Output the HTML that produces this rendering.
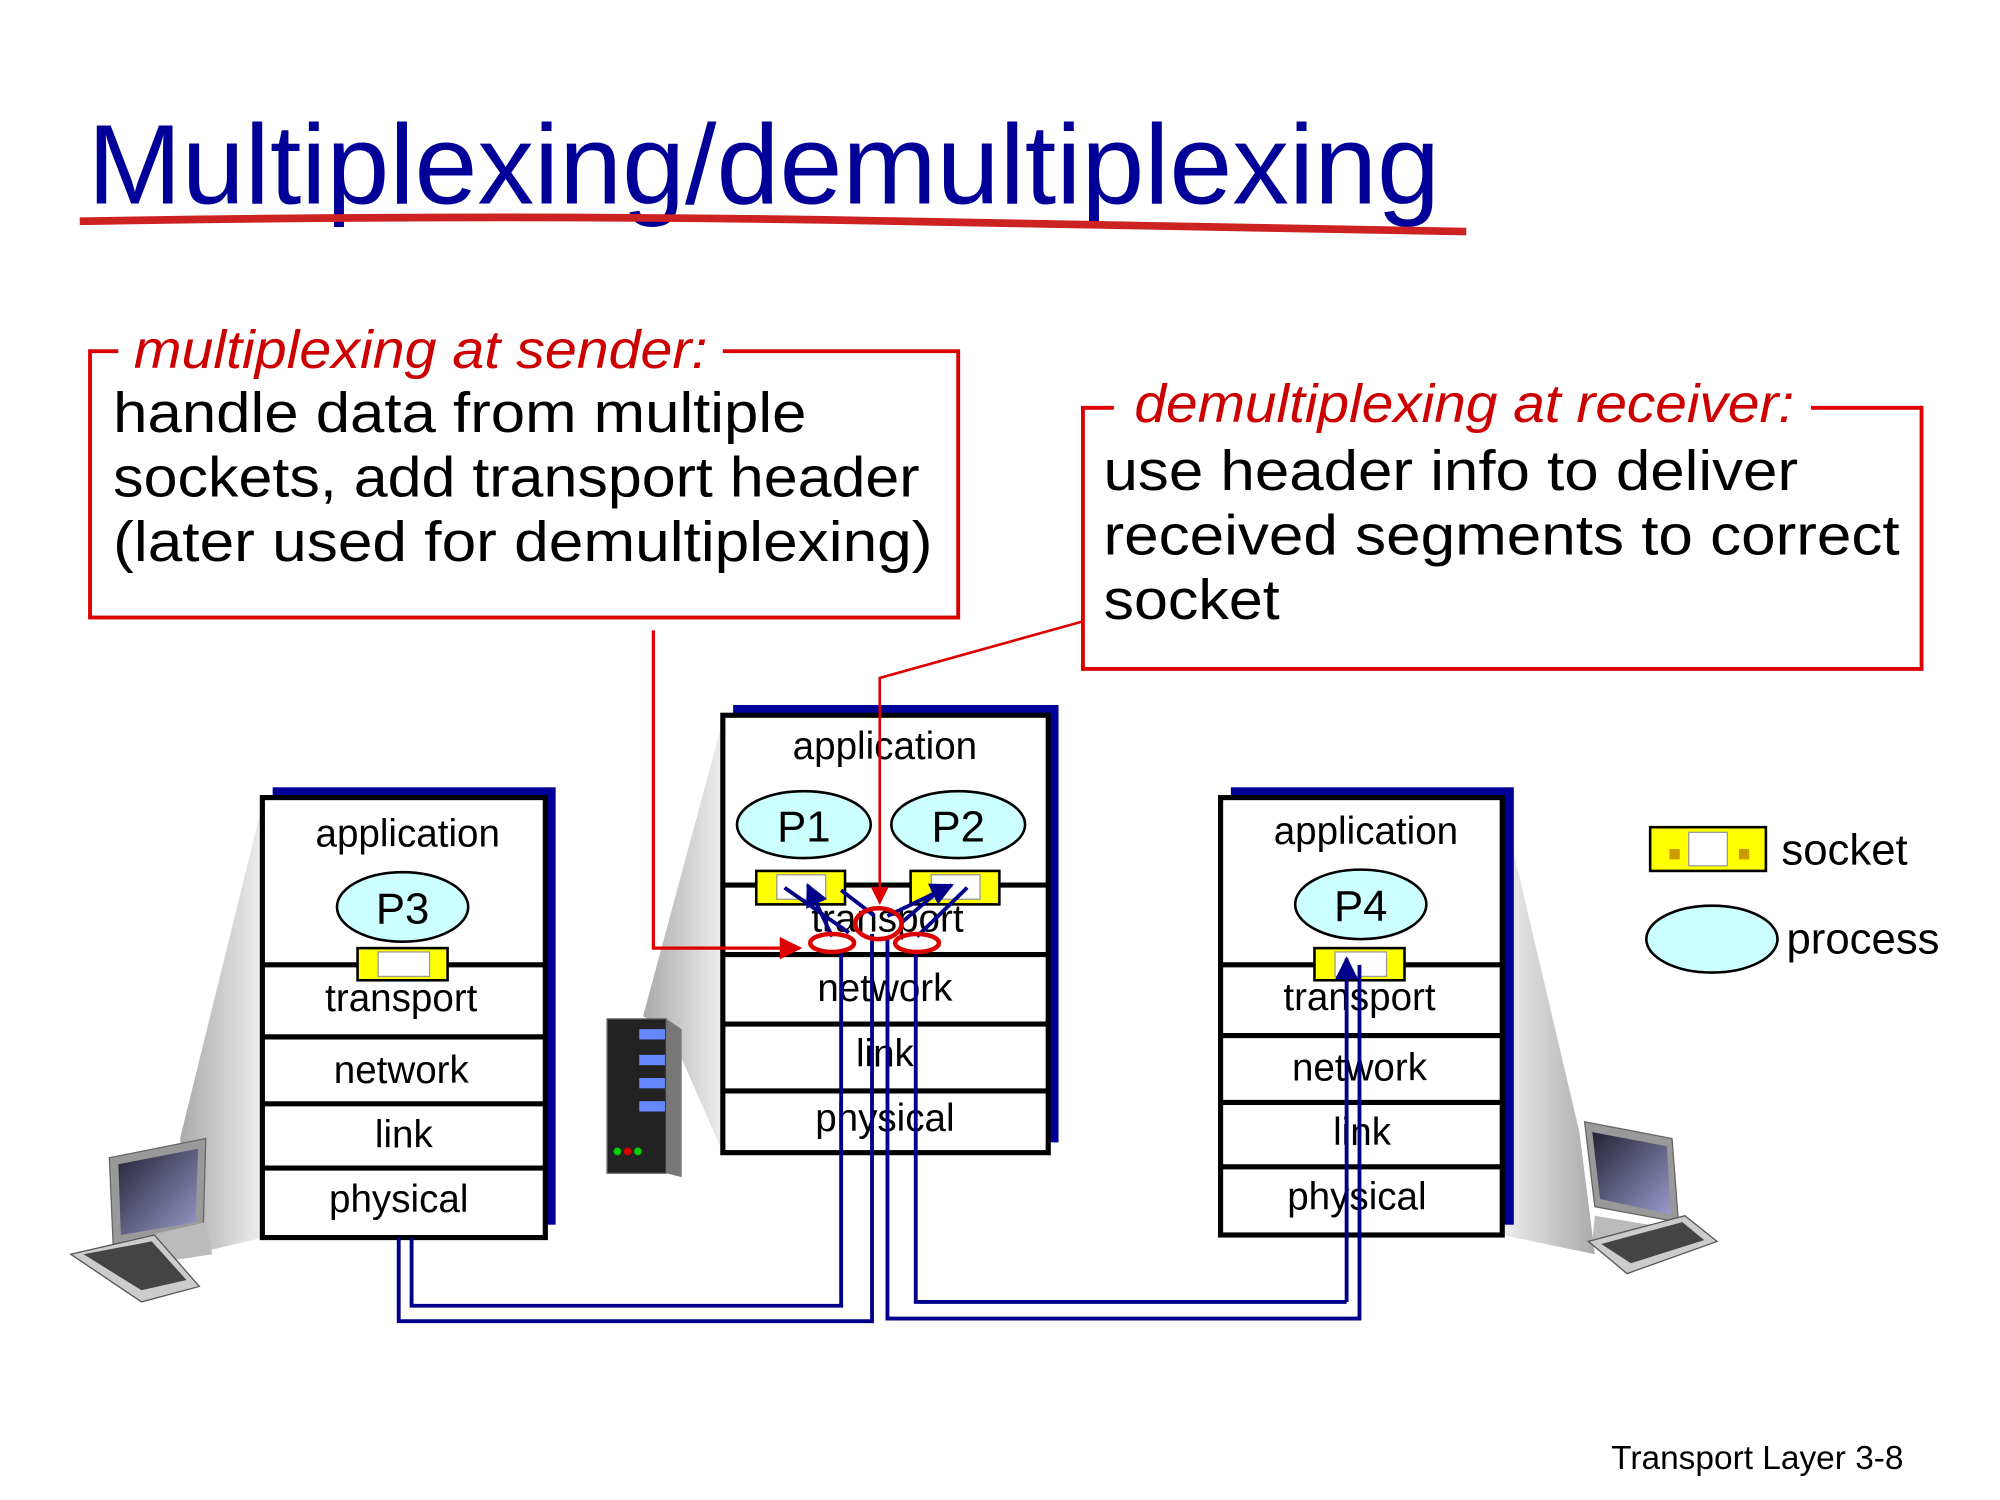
<!DOCTYPE html>
<html><head><meta charset="utf-8"><style>
html,body{margin:0;padding:0;background:#fff;width:2000px;height:1500px;overflow:hidden}
svg{display:block}
text{font-family:"Liberation Sans",sans-serif}
</style></head><body>
<svg width="2000" height="1500" viewBox="0 0 1555 1166" preserveAspectRatio="none" xmlns="http://www.w3.org/2000/svg">
<defs>
<linearGradient id="g1" x1="0" y1="0" x2="1" y2="0"><stop offset="0" stop-color="#eee"/><stop offset="1" stop-color="#aaa"/></linearGradient>
<linearGradient id="g2" x1="1" y1="0" x2="0" y2="0"><stop offset="0" stop-color="#eee"/><stop offset="1" stop-color="#aaa"/></linearGradient>
<linearGradient id="scr" x1="0" y1="0" x2="1" y2="1"><stop offset="0" stop-color="#223"/><stop offset="1" stop-color="#99c"/></linearGradient>
<marker id="ar" viewBox="0 0 10 10" refX="9" refY="5" markerWidth="7" markerHeight="7" orient="auto"><path d="M0,0L10,5L0,10z" fill="#d00"/></marker>
<marker id="ab" viewBox="0 0 10 10" refX="9" refY="5" markerWidth="6" markerHeight="6" orient="auto"><path d="M0,0L10,5L0,10z" fill="#00008b"/></marker>
</defs>
<text x="68" y="158" font-size="88" fill="#000099">Multiplexing/demultiplexing</text>
<path d="M62,172 Q400,166 700,172 T1140,180" stroke="#cc2222" stroke-width="6" fill="none"/>
<rect x="70" y="273" width="675" height="207" fill="none" stroke="#d00" stroke-width="3"/>
<rect x="92" y="262" width="470" height="20" fill="#fff"/>
<text x="104" y="286" font-size="42" font-style="italic" fill="#cc0000" textLength="446" lengthAdjust="spacingAndGlyphs">multiplexing at sender:</text>
<g font-size="44" fill="#000">
<text x="88" y="336" textLength="539" lengthAdjust="spacingAndGlyphs">handle data from multiple</text>
<text x="88" y="386" textLength="627" lengthAdjust="spacingAndGlyphs">sockets, add transport header</text>
<text x="88" y="436" textLength="637" lengthAdjust="spacingAndGlyphs">(later used for demultiplexing)</text>
</g>
<rect x="842" y="317" width="652" height="203" fill="none" stroke="#d00" stroke-width="3"/>
<rect x="866" y="305" width="542" height="20" fill="#fff"/>
<text x="882" y="328" font-size="42" font-style="italic" fill="#cc0000" textLength="513" lengthAdjust="spacingAndGlyphs">demultiplexing at receiver:</text>
<g font-size="44" fill="#000">
<text x="858" y="381" textLength="540" lengthAdjust="spacingAndGlyphs">use header info to deliver</text>
<text x="858" y="431" textLength="619" lengthAdjust="spacingAndGlyphs">received segments to correct</text>
<text x="858" y="481" textLength="137" lengthAdjust="spacingAndGlyphs">socket</text>
</g>
<polygon points="204,625 204,962 150,975 140,885" fill="url(#g2)"/>
<polygon points="562,560 562,896 520,800 500,790" fill="url(#g2)"/>
<polygon points="1168,625 1168,960 1240,975 1228,880" fill="url(#g1)"/>
<rect x="212" y="612" width="220" height="340" fill="#000099"/>
<rect x="204" y="620" width="220" height="342" fill="#fff" stroke="#000" stroke-width="4"/>
<g stroke="#000" stroke-width="4"><line x1="204" y1="750" x2="424" y2="750"/><line x1="204" y1="806" x2="424" y2="806"/><line x1="204" y1="858" x2="424" y2="858"/><line x1="204" y1="908" x2="424" y2="908"/></g>
<g font-size="30" text-anchor="middle" fill="#000">
<text x="317" y="658">application</text><text x="312" y="786">transport</text><text x="312" y="842">network</text><text x="314" y="892">link</text><text x="310" y="942">physical</text>
</g>
<ellipse cx="313" cy="705" rx="51" ry="27" fill="#ccffff" stroke="#000" stroke-width="2"/>
<text x="313" y="718" font-size="34" text-anchor="middle">P3</text>
<rect x="570" y="548" width="253" height="340" fill="#000099"/>
<rect x="562" y="556" width="253" height="340" fill="#fff" stroke="#000" stroke-width="4"/>
<g stroke="#000" stroke-width="4"><line x1="562" y1="688" x2="815" y2="688"/><line x1="562" y1="742" x2="815" y2="742"/><line x1="562" y1="796" x2="815" y2="796"/><line x1="562" y1="848" x2="815" y2="848"/></g>
<g font-size="30" text-anchor="middle" fill="#000">
<text x="688" y="590">application</text><text x="690" y="724">transport</text><text x="688" y="778">network</text><text x="688" y="829">link</text><text x="688" y="879">physical</text>
</g>
<ellipse cx="625" cy="641" rx="52" ry="26" fill="#ccffff" stroke="#000" stroke-width="2"/>
<text x="625" y="654" font-size="34" text-anchor="middle">P1</text>
<ellipse cx="745" cy="641" rx="52" ry="26" fill="#ccffff" stroke="#000" stroke-width="2"/>
<text x="745" y="654" font-size="34" text-anchor="middle">P2</text>
<rect x="957" y="612" width="220" height="340" fill="#000099"/>
<rect x="949" y="620" width="219" height="340" fill="#fff" stroke="#000" stroke-width="4"/>
<g stroke="#000" stroke-width="4"><line x1="949" y1="750" x2="1168" y2="750"/><line x1="949" y1="805" x2="1168" y2="805"/><line x1="949" y1="857" x2="1168" y2="857"/><line x1="949" y1="907" x2="1168" y2="907"/></g>
<g font-size="30" text-anchor="middle" fill="#000">
<text x="1062" y="656">application</text><text x="1057" y="785">transport</text><text x="1057" y="840">network</text><text x="1059" y="890">link</text><text x="1055" y="940">physical</text>
</g>
<ellipse cx="1058" cy="703" rx="51" ry="27" fill="#ccffff" stroke="#000" stroke-width="2"/>
<text x="1058" y="716" font-size="34" text-anchor="middle">P4</text>
<rect x="278" y="737" width="70" height="25" fill="#ffff00" stroke="#000" stroke-width="2"/><rect x="294" y="740" width="40" height="19" fill="#fff" stroke="#999"/>
<rect x="588" y="677" width="69" height="26" fill="#ffff00" stroke="#000" stroke-width="2"/><rect x="604" y="680" width="38" height="19" fill="#fff" stroke="#999"/>
<rect x="708" y="677" width="69" height="26" fill="#ffff00" stroke="#000" stroke-width="2"/><rect x="724" y="680" width="38" height="19" fill="#fff" stroke="#999"/>
<rect x="1022" y="737" width="70" height="25" fill="#ffff00" stroke="#000" stroke-width="2"/><rect x="1038" y="740" width="40" height="19" fill="#fff" stroke="#999"/>
<rect x="1283" y="643" width="90" height="34" fill="#ffff00" stroke="#000" stroke-width="2"/>
<rect x="1313" y="647" width="30" height="26" fill="#fff" stroke="#999"/>
<rect x="1298" y="660" width="8" height="8" fill="#c90"/><rect x="1352" y="660" width="8" height="8" fill="#c90"/>
<text x="1385" y="672" font-size="34">socket</text>
<ellipse cx="1331" cy="730" rx="51" ry="26" fill="#ccffff" stroke="#000" stroke-width="2"/>
<text x="1389" y="741" font-size="34">process</text>
<g stroke="#00008b" stroke-width="3" fill="none">
<polyline points="310,962 310,1027 678,1027 678,726"/>
<polyline points="320,962 320,1015 654,1015 654,740"/>
<polyline points="1047,1012 712,1012 712,740"/>
<polyline points="1057,750 1057,1025 690,1025 690,728"/>
<line x1="1047" y1="1012" x2="1047" y2="745" marker-end="url(#ab)"/>
<line x1="647" y1="728" x2="628" y2="688" marker-end="url(#ab)"/>
<line x1="660" y1="725" x2="610" y2="690"/>
<line x1="680" y1="712" x2="654" y2="692"/>
<line x1="690" y1="712" x2="740" y2="688" marker-end="url(#ab)"/>
<line x1="713" y1="728" x2="752" y2="690"/>
<line x1="700" y1="718" x2="735" y2="688"/>
</g>
<g stroke="#d00" stroke-width="3.5" fill="none">
<ellipse cx="647" cy="733" rx="17" ry="7"/>
<ellipse cx="683" cy="718" rx="18" ry="12"/>
<ellipse cx="713" cy="733" rx="17" ry="7"/>
</g>
<polyline points="508,490 508,737 622,737" stroke="#d00" stroke-width="2.5" fill="none" marker-end="url(#ar)"/>
<polyline points="842,483 684,527 684,702" stroke="#d00" stroke-width="2" fill="none" marker-end="url(#ar)"/>
<g>
<polygon points="85,900 160,885 158,955 88,968" fill="#999" stroke="#666"/>
<polygon points="92,905 154,893 152,950 94,960" fill="url(#scr)"/>
<polygon points="95,965 160,950 165,975 100,985" fill="#bbb"/>
<polygon points="55,975 120,960 155,1000 110,1012" fill="#ccc" stroke="#555"/>
<polygon points="65,975 118,965 145,995 110,1003" fill="#444"/>
</g>
<g>
<rect x="472" y="792" width="46" height="120" fill="#222" stroke="#666"/>
<polygon points="518,792 530,800 530,915 518,912" fill="#777"/>
<rect x="497" y="800" width="20" height="8" fill="#6688ff"/><rect x="497" y="820" width="20" height="8" fill="#6688ff"/>
<rect x="497" y="838" width="20" height="8" fill="#6688ff"/><rect x="497" y="856" width="20" height="8" fill="#6688ff"/>
<circle cx="480" cy="895" r="3" fill="#0c0"/><circle cx="488" cy="895" r="3" fill="#d00"/><circle cx="496" cy="895" r="3" fill="#0c0"/>
</g>
<g>
<polygon points="1232,872 1300,885 1305,950 1240,938" fill="#999" stroke="#666"/>
<polygon points="1238,880 1296,891 1299,944 1244,932" fill="url(#scr)"/>
<polygon points="1240,945 1300,955 1295,975 1238,965" fill="#bbb"/>
<polygon points="1235,965 1310,945 1335,965 1265,990" fill="#ccc" stroke="#555"/>
<polygon points="1245,967 1308,950 1325,964 1268,982" fill="#444"/>
</g>
<text x="1480" y="1142" font-size="26" text-anchor="end">Transport Layer 3-8</text>
</svg>
</body></html>
